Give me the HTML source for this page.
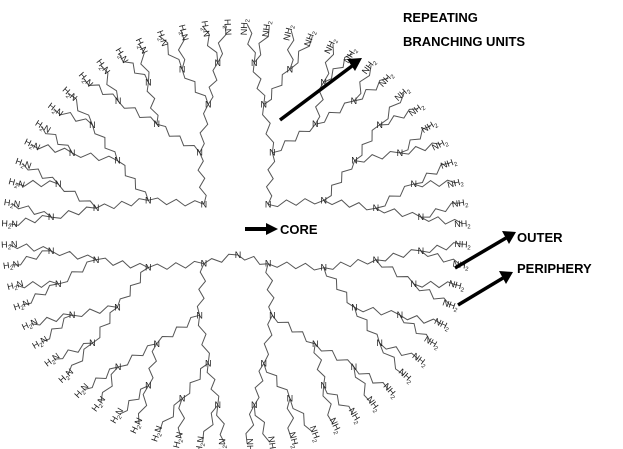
<!DOCTYPE html>
<html><head><meta charset="utf-8"><style>
html,body{margin:0;padding:0;background:#fff;width:623px;height:449px;overflow:hidden}
svg{display:block}
.l{font-family:"Liberation Sans",sans-serif;font-weight:bold;font-size:13px;fill:#000}
</style></head><body>
<svg id="s" width="623" height="449" viewBox="0 0 623 449" xmlns="http://www.w3.org/2000/svg">
<g id="g" stroke="#555" stroke-width="1" fill="none"></g>
<g id="t" font-family="Liberation Sans, sans-serif" font-size="9" fill="#222"></g>
<line x1="245" y1="229" x2="268" y2="229" stroke="#000" stroke-width="4"/>
<polygon points="266,223 278,229 266,235" fill="#000"/>
<text x="280" y="234" class="l">CORE</text>
<line x1="280" y1="120" x2="352" y2="66" stroke="#000" stroke-width="3.5"/>
<polygon points="347,59 362,58 355,71" fill="#000"/>
<text x="403" y="22" class="l">REPEATING</text>
<text x="403" y="46" class="l">BRANCHING UNITS</text>
<line x1="455" y1="268" x2="506" y2="238" stroke="#000" stroke-width="3.5"/>
<polygon points="502,231 516,232 509,244" fill="#000"/>
<line x1="458" y1="305" x2="503" y2="278" stroke="#000" stroke-width="3.5"/>
<polygon points="499,271 513,272 506,284" fill="#000"/>
<text x="517" y="242" class="l">OUTER</text>
<text x="517" y="273" class="l">PERIPHERY</text>
</svg>
<script>
var g=document.getElementById('g'),t=document.getElementById('t'),NS='http://www.w3.org/2000/svg';
var cx=236,cy=234,sx=1.08,R=[0,42,88,132,172,210];
function pt(c,r,a){return [c[0]+r*Math.cos(a)*sx,c[1]+r*Math.sin(a)];}
function zig(p,q){var dx=q[0]-p[0],dy=q[1]-p[1],L=Math.hypot(dx,dy),n=Math.max(4,Math.round(L/9)),nx=-dy/L,ny=dx/L,s=p[0]+','+p[1];
for(var i=1;i<n;i++){var f=i/n,o=(i%2?3:-3);s+=' '+(p[0]+dx*f+nx*o)+','+(p[1]+dy*f+ny*o);}
s+=' '+q[0]+','+q[1];var e=document.createElementNS(NS,'polyline');e.setAttribute('points',s);g.appendChild(e);}
function txt(x,y,s,rot){var e=document.createElementNS(NS,'text');e.setAttribute('x',x);e.setAttribute('y',y);e.setAttribute('text-anchor','middle');
if(rot!==undefined)e.setAttribute('transform','rotate('+rot+' '+x+' '+y+')');e.innerHTML=s;t.appendChild(e);}
function node(p,lvl,a0,a1,c){txt(p[0],p[1]+3,'N');
var am=(a0+a1)/2;
if(lvl==4){var as=[a0+(a1-a0)*0.25,a0+(a1-a0)*0.75];as.forEach(function(a){var q=pt(c,R[5],a);zig(p,q);
var deg=a*180/Math.PI;var right=Math.cos(a)>0;
txt(q[0],q[1]+3,right?'NH<tspan font-size="6" dy="2">2</tspan>':'H<tspan font-size="6" dy="2">2</tspan><tspan dy="-2">N</tspan>',right?deg:deg-180);});return;}
[[a0,am],[am,a1]].forEach(function(r){var a=(r[0]+r[1])/2;var q=pt(c,R[lvl+1],a);zig(p,q);node(q,lvl+1,r[0],r[1],c);});}
var top=[233,213],bot=[238,255];
zig(top,bot);
node(top,0,Math.PI*1.0,Math.PI*2.0,[cx,cy]);
node(bot,0,0,Math.PI,[cx,cy]);
</script>
</body></html>
